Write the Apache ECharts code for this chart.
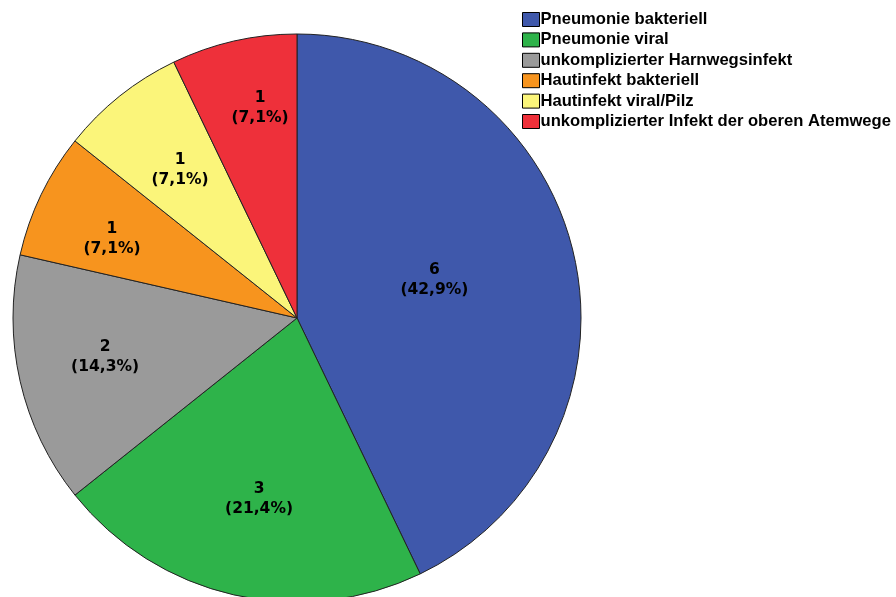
<!DOCTYPE html>
<html><head><meta charset="utf-8">
<script src="https://cdn.jsdelivr.net/npm/echarts@6/dist/echarts.min.js"></script>
<style>html,body{margin:0;padding:0;background:#fff}#c{width:896px;height:597px}</style>
</head><body><div id="c"></div>
<script>
const categories = ["Pneumonie bakteriell","Pneumonie viral","unkomplizierter Harnwegsinfekt","Hautinfekt bakteriell","Hautinfekt viral/Pilz","unkomplizierter Infekt der oberen Atemwege"];
const counts = [6,3,2,1,1,1];
const percents = ["42,9%","21,4%","14,3%","7,1%","7,1%","7,1%"];
const colors = ["#3F58AB","#2EB34A","#9A9A9A","#F7941E","#FBF57A","#EE303A"];

const chart = echarts.init(document.getElementById('c'), null, {renderer:'canvas'});
const labelFont = {fontFamily:'DejaVu Sans', fontWeight:'bold', fontSize:15.5, color:'#000', lineHeight:20};
const legendFont = {fontFamily:'Liberation Sans, Arial, sans-serif', fontWeight:'bold', fontSize:16.6, color:'#000', lineHeight:14};
const fmt = (p)=>p.value+'\n('+percents[p.dataIndex]+')';
const labelNudge = [[-4,-6],[7,-16],[5,-6],[-3,9],[9,10],[8,-13]];
const mainData = categories.map((n,i)=>({name:n, value:counts[i], itemStyle:{color:colors[i]},
  label:{show:i===0, offset:labelNudge[i]}}));
const overlayData = categories.map((n,i)=>({name:n, value:counts[i], label:{show:i!==0, offset:labelNudge[i]}}));
chart.setOption({
  animation:false,
  legend:{
    orient:'vertical', left:517, top:6, itemWidth:17, itemHeight:14, itemGap:3.4,
    icon:'rect', selectedMode:false,
    itemStyle:{borderColor:'#000', borderWidth:1},
    textStyle:Object.assign({}, legendFont, {padding:[0,0,0,-4]}),
    data:categories
  },
  series:[
    {type:'pie', center:[297,318], radius:[0,284], startAngle:90, clockwise:true,
     data:mainData, silent:true,
     itemStyle:{borderColor:'#222', borderWidth:1},
     label:Object.assign({position:'inside', formatter:fmt}, labelFont),
     labelLine:{show:false}},
    {type:'pie', center:[297,318], radius:[0,398], startAngle:90, clockwise:true,
     data:overlayData, silent:true, legendHoverLink:false,
     itemStyle:{color:'rgba(0,0,0,0)', borderWidth:0},
     label:Object.assign({position:'inside', formatter:fmt}, labelFont),
     labelLine:{show:false}, z:3}
  ]
});
</script></body></html>
